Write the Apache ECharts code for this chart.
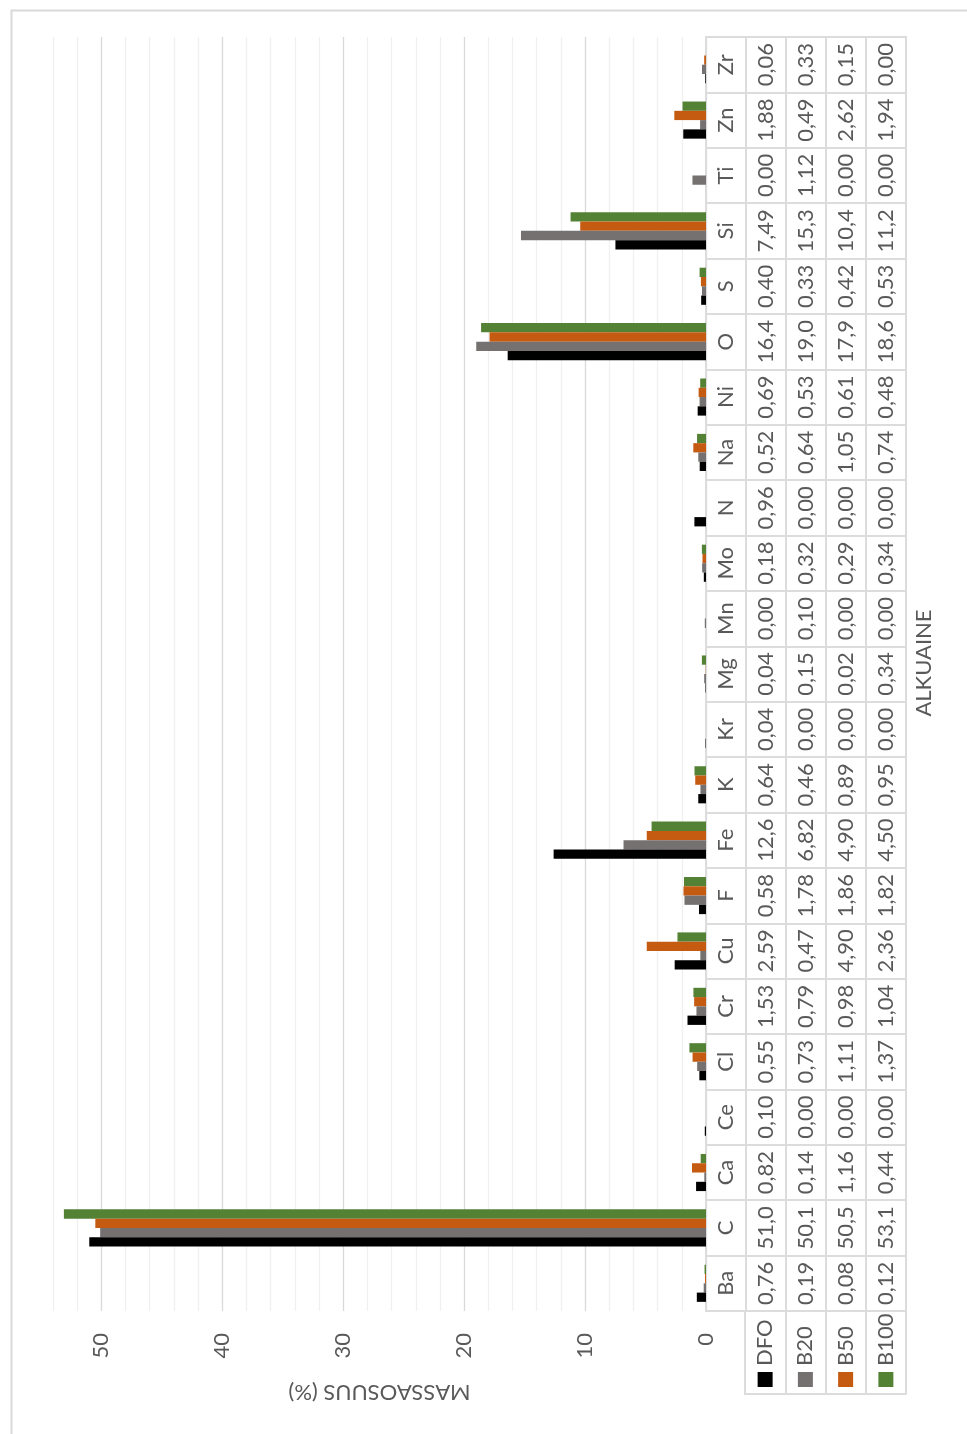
<!DOCTYPE html>
<html>
<head>
<meta charset="utf-8">
<script src="https://cdn.jsdelivr.net/npm/echarts@6/dist/echarts.min.js"></script>
<style>
html,body{margin:0;padding:0;background:#fff;}
#main{width:967px;height:1434px;}
</style>
</head>
<body>
<div id="main"></div>
<script>
// ---- data ----
const categories = ['Ba','C','Ca','Ce','Cl','Cr','Cu','F','Fe','K','Kr','Mg','Mn','Mo','N','Na','Ni','O','S','Si','Ti','Zn','Zr'];
const seriesNames = ['DFO','B20','B50','B100'];
const dfo  = [0.76,51.0,0.82,0.10,0.55,1.53,2.59,0.58,12.6,0.64,0.04,0.04,0.00,0.18,0.96,0.52,0.69,16.4,0.40,7.49,0.00,1.88,0.06];
const b20  = [0.19,50.1,0.14,0.00,0.73,0.79,0.47,1.78,6.82,0.46,0.00,0.15,0.10,0.32,0.00,0.64,0.53,19.0,0.33,15.3,1.12,0.49,0.33];
const b50  = [0.08,50.5,1.16,0.00,1.11,0.98,4.90,1.86,4.90,0.89,0.00,0.02,0.00,0.29,0.00,1.05,0.61,17.9,0.42,10.4,0.00,2.62,0.15];
const b100 = [0.12,53.1,0.44,0.00,1.37,1.04,2.36,1.82,4.50,0.95,0.00,0.34,0.00,0.34,0.00,0.74,0.48,18.6,0.53,11.2,0.00,1.94,0.00];
const valueTickLabels = [0,10,20,30,40,50];
const axisTitle = 'MASSAOSUUS (%)';
const categoryTitle = 'ALKUAINE';

// ---- styles ----
const colors = ['#000000','#767171','#c55a11','#548235'];
const textColor = '#595959';
const font = 'Lato';
const fsize = 22;
const lineCol = '#dcdcdc';

const allSeries = [dfo, b20, b50, b100];
function fmt(v){ return (v >= 10 ? v.toFixed(1) : v.toFixed(2)).replace('.', ','); }

// table cells built from arrays
const tableCells = [];
const tableTexts = [];
categories.forEach((c, r) => {
  tableCells.push([0, r]); tableTexts.push(c);
  allSeries.forEach((arr, s) => { tableCells.push([s + 1, r]); tableTexts.push(fmt(arr[r])); });
});

const chart = echarts.init(document.getElementById('main'), null, {renderer:'canvas'});

const gridTop = 37, gridBottom = 123;

// bars: DFO must sit lowest in each group, so series are added in reverse order
const barOrder = [3, 2, 1, 0];

const option = {
  animation: false,
  backgroundColor: '#ffffff',
  textStyle: {fontFamily: font},
  grid: [
    {left: 53, right: 261, top: gridTop, bottom: gridBottom, containLabel: false},
    {left: 706, right: 61, top: gridTop, bottom: gridBottom, show: true, borderColor: lineCol, borderWidth: 2},
    {left: 745, right: 61, top: 1434 - gridBottom, bottom: 40, show: true, borderColor: lineCol, borderWidth: 2}
  ],
  xAxis: [
    {
      gridIndex: 0, type: 'value', inverse: true, min: 0, max: 54, interval: 2,
      axisLine: {show: false}, axisTick: {show: false},
      axisLabel: {
        rotate: 90, margin: 22, color: textColor, fontSize: fsize, fontFamily: font,
        formatter: v => valueTickLabels.indexOf(v) >= 0 ? String(v) : ''
      },
      splitLine: {show: true, lineStyle: {width: 1.3, color: ['#d9d9d9','#f0f0f0','#f0f0f0','#f0f0f0','#f0f0f0']}},
      name: axisTitle, nameLocation: 'middle', nameGap: 70, nameRotate: 180,
      nameTextStyle: {color: textColor, fontSize: fsize, fontFamily: font}
    },
    {
      gridIndex: 1, type: 'category', data: ['', ...seriesNames], boundaryGap: true,
      axisLine: {show: false}, axisTick: {show: false}, axisLabel: {show: false},
      splitLine: {show: true, interval: 0, lineStyle: {color: lineCol, width: 2}}
    },
    {
      gridIndex: 2, type: 'category', data: seriesNames, boundaryGap: true,
      axisLine: {show: false}, axisTick: {show: false}, axisLabel: {show: false},
      splitLine: {show: true, interval: 0, lineStyle: {color: lineCol, width: 2}}
    }
  ],
  yAxis: [
    {
      gridIndex: 0, type: 'category', data: categories,
      axisLine: {show: false}, axisTick: {show: false}, axisLabel: {show: false}, splitLine: {show: false}
    },
    {
      gridIndex: 1, type: 'category', data: categories,
      axisLine: {show: false}, axisTick: {show: false}, axisLabel: {show: false},
      splitLine: {show: true, interval: 0, lineStyle: {color: lineCol, width: 2}}
    },
    {
      gridIndex: 2, type: 'value', min: 0, max: 1, show: false, splitLine: {show: false}
    }
  ],
  series: [
    ...barOrder.map(i => ({
      name: seriesNames[i], type: 'bar', xAxisIndex: 0, yAxisIndex: 0,
      data: allSeries[i], barGap: '0%', barCategoryGap: '33%',
      itemStyle: {color: colors[i]}
    })),
    {
      type: 'custom', xAxisIndex: 1, yAxisIndex: 1, silent: true,
      data: tableCells,
      renderItem: (params, api) => {
        const p = api.coord([api.value(0), api.value(1)]);
        return {
          type: 'text', x: p[0], y: p[1], rotation: Math.PI / 2,
          style: {text: tableTexts[params.dataIndex], align: 'center', verticalAlign: 'middle',
                  fill: textColor, fontSize: fsize, fontFamily: font}
        };
      }
    },
    {
      type: 'custom', xAxisIndex: 2, yAxisIndex: 2, silent: true,
      data: seriesNames.map((n, i) => [i, 0]),
      renderItem: (params, api) => {
        const i = params.dataIndex;
        const p = api.coord([api.value(0), 0]);
        return {
          type: 'group',
          children: [
            {type: 'rect', shape: {x: p[0] - 7.5, y: p[1] - 22, width: 15, height: 15},
             style: {fill: colors[i]}},
            {type: 'text', x: p[0], y: p[1] - 28, rotation: Math.PI / 2,
             style: {text: seriesNames[i], align: 'left', verticalAlign: 'middle',
                     fill: textColor, fontSize: fsize, fontFamily: font}}
          ]
        };
      }
    }
  ],
  graphic: [
    {type: 'rect', left: 9, top: 8, silent: true,
     shape: {width: 1000, height: 1440}, style: {fill: 'none', stroke: '#d9d9d9', lineWidth: 2}},
    {type: 'text', x: 924, y: 663, rotation: Math.PI / 2, silent: true,
     style: {text: categoryTitle, align: 'center', verticalAlign: 'middle', fill: textColor, fontSize: fsize, fontFamily: font}}
  ]
};
chart.setOption(option);
</script>
</body>
</html>
